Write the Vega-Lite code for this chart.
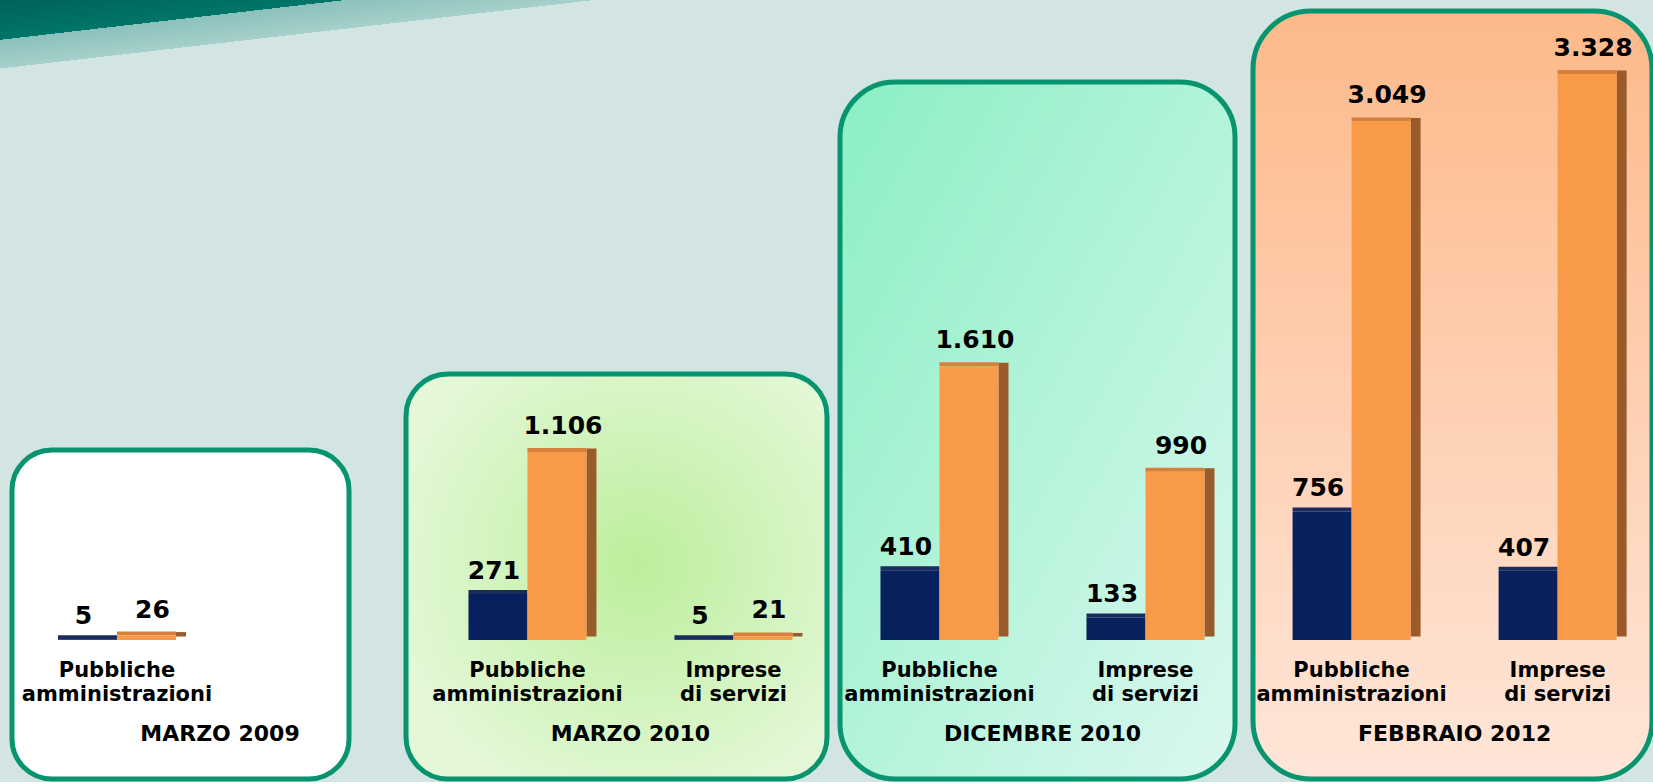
{
  "$schema": "https://vega.github.io/schema/vega-lite/v6.json",
  "padding": 0,
  "background": "#D3E5E3",
  "config": {
    "view": {"stroke": null},
    "locale": {"number": {"decimal": ",", "thousands": ".", "grouping": [3], "currency": ["€", ""]}},
    "text": {"font": "DejaVu Sans", "fontWeight": "bold", "color": "#000000"}
  },
  "datasets": {
    "dati": [
      {"periodo": "MARZO 2009", "categoria": "Pubbliche amministrazioni", "serie": "Serie 1", "valore": 5},
      {"periodo": "MARZO 2009", "categoria": "Pubbliche amministrazioni", "serie": "Serie 2", "valore": 26},
      {"periodo": "MARZO 2010", "categoria": "Pubbliche amministrazioni", "serie": "Serie 1", "valore": 271},
      {"periodo": "MARZO 2010", "categoria": "Pubbliche amministrazioni", "serie": "Serie 2", "valore": 1106},
      {"periodo": "MARZO 2010", "categoria": "Imprese di servizi", "serie": "Serie 1", "valore": 5},
      {"periodo": "MARZO 2010", "categoria": "Imprese di servizi", "serie": "Serie 2", "valore": 21},
      {"periodo": "DICEMBRE 2010", "categoria": "Pubbliche amministrazioni", "serie": "Serie 1", "valore": 410},
      {"periodo": "DICEMBRE 2010", "categoria": "Pubbliche amministrazioni", "serie": "Serie 2", "valore": 1610},
      {"periodo": "DICEMBRE 2010", "categoria": "Imprese di servizi", "serie": "Serie 1", "valore": 133},
      {"periodo": "DICEMBRE 2010", "categoria": "Imprese di servizi", "serie": "Serie 2", "valore": 990},
      {"periodo": "FEBBRAIO 2012", "categoria": "Pubbliche amministrazioni", "serie": "Serie 1", "valore": 756},
      {"periodo": "FEBBRAIO 2012", "categoria": "Pubbliche amministrazioni", "serie": "Serie 2", "valore": 3049},
      {"periodo": "FEBBRAIO 2012", "categoria": "Imprese di servizi", "serie": "Serie 1", "valore": 407},
      {"periodo": "FEBBRAIO 2012", "categoria": "Imprese di servizi", "serie": "Serie 2", "valore": 3328}
    ]
  },
  "spacing": 0,
  "resolve": {"scale": {"x": "independent", "y": "independent", "xOffset": "independent"}},
  "hconcat": [
    {
      "spacing": 0,
      "resolve": {"scale": {"x": "independent", "y": "independent", "xOffset": "independent"}},
      "vconcat": [
        {"width": 834, "height": 70, "data": {"values": []}, "mark": "rect", "encoding": {},
         "view": {"fill": {"gradient": "linear", "x1": 0, "y1": 0, "x2": 0.80866, "y2": 0.58828,
                           "stops": [{"offset": 0, "color": "#00625A"}, {"offset": 0.335, "color": "#007569"},
                                     {"offset": 0.335, "color": "#8BC1BC"}, {"offset": 0.5761, "color": "#A6D0CB"},
                                     {"offset": 0.5761, "color": "#D3E5E3"}, {"offset": 1, "color": "#D3E5E3"}]}}},
        {
          "spacing": 0,
          "resolve": {"scale": {"x": "independent", "y": "independent", "xOffset": "independent"}},
          "hconcat": [
            {
              "spacing": 0,
              "resolve": {"scale": {"x": "independent", "y": "independent", "xOffset": "independent"}},
              "vconcat": [
                {"width": 356, "height": 377, "data": {"values": []}, "mark": "rect", "encoding": {}},
                {
                  "spacing": 0,
                  "resolve": {"scale": {"x": "independent", "y": "independent", "xOffset": "independent"}},
                  "hconcat": [
                    {"width": 9, "height": 10, "data": {"values": []}, "mark": "rect", "encoding": {}},
                    {
                      "width": 337, "height": 329,
                      "view": {"fill": "#FFFFFF", "stroke": "#07946F", "strokeWidth": 5, "cornerRadius": 40},
                      "data": {"name": "dati"},
                      "transform": [{"filter": "datum.periodo === 'MARZO 2009'"}],
                      "encoding": {
                        "x": {"field": "categoria", "type": "nominal", "axis": null, "sort": null,
                              "scale": {"domain": ["Pubbliche amministrazioni"], "paddingInner": 0.4272, "paddingOuter": 0.5316, "align": 0.21}},
                        "y": {"field": "valore", "type": "quantitative", "axis": null,
                              "scale": {"domain": [-817.3, 1117.2], "nice": false, "zero": false}}
                      },
                      "layer": [
                        {"transform": [{"filter": "datum.serie === 'Serie 2'"}],
                         "mark": {"type": "bar", "color": "#9A5A2A", "width": 10, "xOffset": 64, "yOffset": -3.5, "y2Offset": -3.5},
                         "encoding": {"y2": {"datum": 0}}},
                        {"mark": {"type": "bar", "yOffset": -4, "width": 59},
                         "encoding": {"xOffset": {"field": "serie", "type": "nominal", "scale": {"domain": ["Serie 1", "Serie 2"], "paddingInner": 0, "paddingOuter": 0}}, "y2": {"field": "valore"},
                                      "fill": {"field": "serie", "type": "nominal", "scale": {"domain": ["Serie 1", "Serie 2"], "range": ["#1A2B5C", "#D5803B"]}, "legend": null}}},
                        {"mark": {"type": "bar"},
                         "encoding": {"xOffset": {"field": "serie", "type": "nominal", "scale": {"domain": ["Serie 1", "Serie 2"], "paddingInner": 0, "paddingOuter": 0}}, "y2": {"datum": 0},
                                      "color": {"field": "serie", "type": "nominal", "scale": {"domain": ["Serie 1", "Serie 2"], "range": ["#06215E", "#F99A49"]}, "legend": null}}},
                        {"transform": [{"filter": "datum.serie === 'Serie 1'"}],
                         "mark": {"type": "text", "fontSize": 25, "baseline": "alphabetic", "dy": -15, "dx": -4},
                         "encoding": {"xOffset": {"field": "serie", "type": "nominal", "scale": {"domain": ["Serie 1", "Serie 2"], "paddingInner": 0, "paddingOuter": 0}}, "text": {"field": "valore", "type": "quantitative", "format": ",d"}}},
                        {"transform": [{"filter": "datum.serie === 'Serie 2'"}],
                         "mark": {"type": "text", "fontSize": 25, "baseline": "alphabetic", "dy": -18, "dx": 6},
                         "encoding": {"xOffset": {"field": "serie", "type": "nominal", "scale": {"domain": ["Serie 1", "Serie 2"], "paddingInner": 0, "paddingOuter": 0}}, "text": {"field": "valore", "type": "quantitative", "format": ",d"}}},
                        {"transform": [{"filter": "datum.serie === 'Serie 1'"}, {"calculate": "replace(datum.categoria, ' ', '\\n')", "as": "etichetta"}],
                         "mark": {"type": "text", "fontSize": 21, "baseline": "alphabetic", "lineBreak": "\n", "lineHeight": 24, "dy": 37},
                         "encoding": {"y": {"datum": 0}, "text": {"field": "etichetta"}}},
                        {"transform": [{"filter": "datum.serie === 'Serie 1' && datum.categoria === 'Pubbliche amministrazioni'"}],
                         "mark": {"type": "text", "fontSize": 22, "baseline": "alphabetic", "dy": 101, "dx": 103},
                         "encoding": {"y": {"datum": 0}, "text": {"field": "periodo"}}}
                      ]
                    }
                  ]
                }
              ]
            },
            {"width": 47, "height": 10, "data": {"values": []}, "mark": "rect", "encoding": {}},
            {
              "spacing": 0,
              "resolve": {"scale": {"x": "independent", "y": "independent", "xOffset": "independent"}},
              "vconcat": [
                {"width": 431, "height": 301, "data": {"values": []}, "mark": "rect", "encoding": {}},
                {
                  "width": 421, "height": 405,
                  "view": {"fill": {"gradient": "radial", "x1": 0.55, "y1": 0.47, "x2": 0.55, "y2": 0.47, "r1": 0, "r2": 0.6,
                                    "stops": [{"offset": 0, "color": "#BDEE9C"}, {"offset": 1, "color": "#E4F8D8"}]},
                           "stroke": "#07946F", "strokeWidth": 5, "cornerRadius": 42},
                  "data": {"name": "dati"},
                  "transform": [{"filter": "datum.periodo === 'MARZO 2010'"}],
                  "encoding": {
                    "x": {"field": "categoria", "type": "nominal", "axis": null, "sort": null,
                          "scale": {"domain": ["Pubbliche amministrazioni", "Imprese di servizi"], "paddingInner": 0.4272, "paddingOuter": 0.2354, "align": 0.644}},
                    "y": {"field": "valore", "type": "quantitative", "axis": null,
                          "scale": {"domain": [-817.3, 1564.0], "nice": false, "zero": false}}
                  },
                  "layer": [
                    {"transform": [{"filter": "datum.serie === 'Serie 2'"}],
                     "mark": {"type": "bar", "color": "#9A5A2A", "width": 10, "xOffset": 64, "yOffset": -3.5, "y2Offset": -3.5},
                     "encoding": {"y2": {"datum": 0}}},
                    {"mark": {"type": "bar", "yOffset": -4, "width": 59},
                     "encoding": {"xOffset": {"field": "serie", "type": "nominal", "scale": {"domain": ["Serie 1", "Serie 2"], "paddingInner": 0, "paddingOuter": 0}}, "y2": {"field": "valore"},
                                  "fill": {"field": "serie", "type": "nominal", "scale": {"domain": ["Serie 1", "Serie 2"], "range": ["#1A2B5C", "#D5803B"]}, "legend": null}}},
                    {"mark": {"type": "bar"},
                     "encoding": {"xOffset": {"field": "serie", "type": "nominal", "scale": {"domain": ["Serie 1", "Serie 2"], "paddingInner": 0, "paddingOuter": 0}}, "y2": {"datum": 0},
                                  "color": {"field": "serie", "type": "nominal", "scale": {"domain": ["Serie 1", "Serie 2"], "range": ["#06215E", "#F99A49"]}, "legend": null}}},
                    {"transform": [{"filter": "datum.serie === 'Serie 1'"}],
                     "mark": {"type": "text", "fontSize": 25, "baseline": "alphabetic", "dy": -15, "dx": -4},
                     "encoding": {"xOffset": {"field": "serie", "type": "nominal", "scale": {"domain": ["Serie 1", "Serie 2"], "paddingInner": 0, "paddingOuter": 0}}, "text": {"field": "valore", "type": "quantitative", "format": ",d"}}},
                    {"transform": [{"filter": "datum.serie === 'Serie 2'"}],
                     "mark": {"type": "text", "fontSize": 25, "baseline": "alphabetic", "dy": -18, "dx": 6},
                     "encoding": {"xOffset": {"field": "serie", "type": "nominal", "scale": {"domain": ["Serie 1", "Serie 2"], "paddingInner": 0, "paddingOuter": 0}}, "text": {"field": "valore", "type": "quantitative", "format": ",d"}}},
                    {"transform": [{"filter": "datum.serie === 'Serie 1'"}, {"calculate": "replace(datum.categoria, ' ', '\\n')", "as": "etichetta"}],
                     "mark": {"type": "text", "fontSize": 21, "baseline": "alphabetic", "lineBreak": "\n", "lineHeight": 24, "dy": 37},
                     "encoding": {"y": {"datum": 0}, "text": {"field": "etichetta"}}},
                    {"transform": [{"filter": "datum.serie === 'Serie 1' && datum.categoria === 'Pubbliche amministrazioni'"}],
                     "mark": {"type": "text", "fontSize": 22, "baseline": "alphabetic", "dy": 101, "dx": 103},
                     "encoding": {"y": {"datum": 0}, "text": {"field": "periodo"}}}
                  ]
                }
              ]
            }
          ]
        }
      ]
    },
    {
      "spacing": 0,
      "resolve": {"scale": {"x": "independent", "y": "independent", "xOffset": "independent"}},
      "vconcat": [
        {"width": 405, "height": 79, "data": {"values": []}, "mark": "rect", "encoding": {}},
        {
          "width": 395, "height": 697,
          "view": {"fill": {"gradient": "linear", "x1": 0, "y1": 0, "x2": 1, "y2": 1,
                            "stops": [{"offset": 0, "color": "#8BEFC4"}, {"offset": 1, "color": "#DBF8EF"}]},
                   "stroke": "#07946F", "strokeWidth": 5, "cornerRadius": 55},
          "data": {"name": "dati"},
          "transform": [{"filter": "datum.periodo === 'DICEMBRE 2010'"}],
          "encoding": {
            "x": {"field": "categoria", "type": "nominal", "axis": null, "sort": null,
                  "scale": {"domain": ["Pubbliche amministrazioni", "Imprese di servizi"], "paddingInner": 0.4272, "paddingOuter": 0.1723, "align": 0.57}},
            "y": {"field": "valore", "type": "quantitative", "axis": null,
                  "scale": {"domain": [-817.3, 3281.0], "nice": false, "zero": false}}
          },
          "layer": [
            {"transform": [{"filter": "datum.serie === 'Serie 2'"}],
             "mark": {"type": "bar", "color": "#9A5A2A", "width": 10, "xOffset": 64, "yOffset": -3.5, "y2Offset": -3.5},
             "encoding": {"y2": {"datum": 0}}},
            {"mark": {"type": "bar", "yOffset": -4, "width": 59},
             "encoding": {"xOffset": {"field": "serie", "type": "nominal", "scale": {"domain": ["Serie 1", "Serie 2"], "paddingInner": 0, "paddingOuter": 0}}, "y2": {"field": "valore"},
                          "fill": {"field": "serie", "type": "nominal", "scale": {"domain": ["Serie 1", "Serie 2"], "range": ["#1A2B5C", "#D5803B"]}, "legend": null}}},
            {"mark": {"type": "bar"},
             "encoding": {"xOffset": {"field": "serie", "type": "nominal", "scale": {"domain": ["Serie 1", "Serie 2"], "paddingInner": 0, "paddingOuter": 0}}, "y2": {"datum": 0},
                          "color": {"field": "serie", "type": "nominal", "scale": {"domain": ["Serie 1", "Serie 2"], "range": ["#06215E", "#F99A49"]}, "legend": null}}},
            {"transform": [{"filter": "datum.serie === 'Serie 1'"}],
             "mark": {"type": "text", "fontSize": 25, "baseline": "alphabetic", "dy": -15, "dx": -4},
             "encoding": {"xOffset": {"field": "serie", "type": "nominal", "scale": {"domain": ["Serie 1", "Serie 2"], "paddingInner": 0, "paddingOuter": 0}}, "text": {"field": "valore", "type": "quantitative", "format": ",d"}}},
            {"transform": [{"filter": "datum.serie === 'Serie 2'"}],
             "mark": {"type": "text", "fontSize": 25, "baseline": "alphabetic", "dy": -18, "dx": 6},
             "encoding": {"xOffset": {"field": "serie", "type": "nominal", "scale": {"domain": ["Serie 1", "Serie 2"], "paddingInner": 0, "paddingOuter": 0}}, "text": {"field": "valore", "type": "quantitative", "format": ",d"}}},
            {"transform": [{"filter": "datum.serie === 'Serie 1'"}, {"calculate": "replace(datum.categoria, ' ', '\\n')", "as": "etichetta"}],
             "mark": {"type": "text", "fontSize": 21, "baseline": "alphabetic", "lineBreak": "\n", "lineHeight": 24, "dy": 37},
             "encoding": {"y": {"datum": 0}, "text": {"field": "etichetta"}}},
            {"transform": [{"filter": "datum.serie === 'Serie 1' && datum.categoria === 'Pubbliche amministrazioni'"}],
             "mark": {"type": "text", "fontSize": 22, "baseline": "alphabetic", "dy": 101, "dx": 103},
             "encoding": {"y": {"datum": 0}, "text": {"field": "periodo"}}}
          ]
        }
      ]
    },
    {"width": 5, "height": 10, "data": {"values": []}, "mark": "rect", "encoding": {}},
    {
      "spacing": 0,
      "resolve": {"scale": {"x": "independent", "y": "independent", "xOffset": "independent"}},
      "vconcat": [
        {"width": 409, "height": 8, "data": {"values": []}, "mark": "rect", "encoding": {}},
        {
          "width": 399, "height": 768,
          "view": {"fill": {"gradient": "linear", "x1": 0, "y1": 0, "x2": 0, "y2": 1,
                            "stops": [{"offset": 0, "color": "#FDB98A"}, {"offset": 1, "color": "#FFE6D9"}]},
                   "stroke": "#07946F", "strokeWidth": 5, "cornerRadius": 58},
          "data": {"name": "dati"},
          "transform": [{"filter": "datum.periodo === 'FEBBRAIO 2012'"}],
          "encoding": {
            "x": {"field": "categoria", "type": "nominal", "axis": null, "sort": null,
                  "scale": {"domain": ["Pubbliche amministrazioni", "Imprese di servizi"], "paddingInner": 0.4272, "paddingOuter": 0.1819, "align": 0.528}},
            "y": {"field": "valore", "type": "quantitative", "axis": null,
                  "scale": {"domain": [-817.3, 3698.4], "nice": false, "zero": false}}
          },
          "layer": [
            {"transform": [{"filter": "datum.serie === 'Serie 2'"}],
             "mark": {"type": "bar", "color": "#9A5A2A", "width": 10, "xOffset": 64, "yOffset": -3.5, "y2Offset": -3.5},
             "encoding": {"y2": {"datum": 0}}},
            {"mark": {"type": "bar", "yOffset": -4, "width": 59},
             "encoding": {"xOffset": {"field": "serie", "type": "nominal", "scale": {"domain": ["Serie 1", "Serie 2"], "paddingInner": 0, "paddingOuter": 0}}, "y2": {"field": "valore"},
                          "fill": {"field": "serie", "type": "nominal", "scale": {"domain": ["Serie 1", "Serie 2"], "range": ["#1A2B5C", "#D5803B"]}, "legend": null}}},
            {"mark": {"type": "bar"},
             "encoding": {"xOffset": {"field": "serie", "type": "nominal", "scale": {"domain": ["Serie 1", "Serie 2"], "paddingInner": 0, "paddingOuter": 0}}, "y2": {"datum": 0},
                          "color": {"field": "serie", "type": "nominal", "scale": {"domain": ["Serie 1", "Serie 2"], "range": ["#06215E", "#F99A49"]}, "legend": null}}},
            {"transform": [{"filter": "datum.serie === 'Serie 1'"}],
             "mark": {"type": "text", "fontSize": 25, "baseline": "alphabetic", "dy": -15, "dx": -4},
             "encoding": {"xOffset": {"field": "serie", "type": "nominal", "scale": {"domain": ["Serie 1", "Serie 2"], "paddingInner": 0, "paddingOuter": 0}}, "text": {"field": "valore", "type": "quantitative", "format": ",d"}}},
            {"transform": [{"filter": "datum.serie === 'Serie 2'"}],
             "mark": {"type": "text", "fontSize": 25, "baseline": "alphabetic", "dy": -18, "dx": 6},
             "encoding": {"xOffset": {"field": "serie", "type": "nominal", "scale": {"domain": ["Serie 1", "Serie 2"], "paddingInner": 0, "paddingOuter": 0}}, "text": {"field": "valore", "type": "quantitative", "format": ",d"}}},
            {"transform": [{"filter": "datum.serie === 'Serie 1'"}, {"calculate": "replace(datum.categoria, ' ', '\\n')", "as": "etichetta"}],
             "mark": {"type": "text", "fontSize": 21, "baseline": "alphabetic", "lineBreak": "\n", "lineHeight": 24, "dy": 37},
             "encoding": {"y": {"datum": 0}, "text": {"field": "etichetta"}}},
            {"transform": [{"filter": "datum.serie === 'Serie 1' && datum.categoria === 'Pubbliche amministrazioni'"}],
             "mark": {"type": "text", "fontSize": 22, "baseline": "alphabetic", "dy": 101, "dx": 103},
             "encoding": {"y": {"datum": 0}, "text": {"field": "periodo"}}}
          ]
        }
      ]
    }
  ]
}
